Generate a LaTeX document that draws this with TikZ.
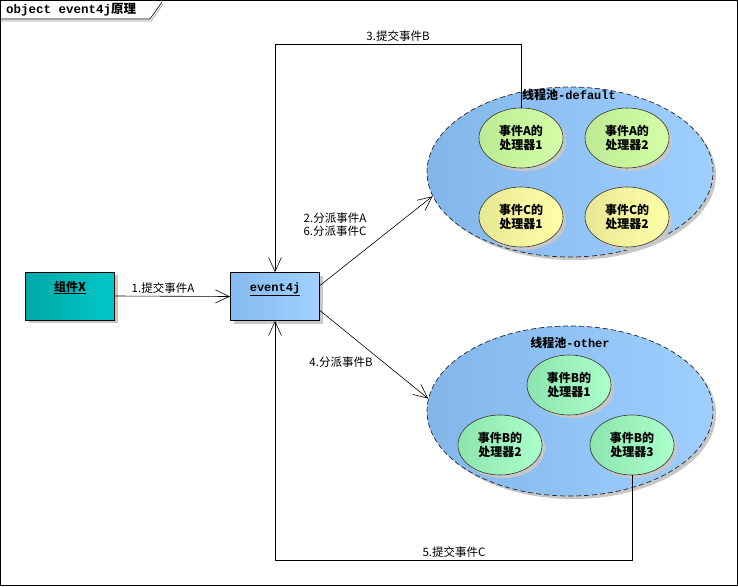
\documentclass[tikz,border=0pt]{standalone}
\usepackage{fontspec}
\setmainfont{Noto Sans CJK SC}
\setmonofont{Liberation Mono}
\usetikzlibrary{shapes.geometric,shadows,arrows.meta}
\definecolor{compL}{HTML}{00A8A8}
\definecolor{compR}{HTML}{00C8C8}
\definecolor{evtL}{HTML}{84BAEE}
\definecolor{evtR}{HTML}{A2D2FF}
\definecolor{poolL}{HTML}{82B6EA}
\definecolor{poolR}{HTML}{9FCFFF}
\definecolor{hAL}{HTML}{BEEA94}
\definecolor{hAR}{HTML}{D4FFA8}
\definecolor{hCL}{HTML}{E8E894}
\definecolor{hCR}{HTML}{FFFFA8}
\definecolor{hBL}{HTML}{8EE4AE}
\definecolor{hBR}{HTML}{AAFFCA}
\begin{document}
\begin{tikzpicture}[x=1pt,y=-1pt,
  every node/.style={inner sep=0pt},
  shad/.style={drop shadow={shadow xshift=3pt,shadow yshift=-3pt,fill=black!22,opacity=1}},
  lbl/.style={font=\fontsize{11.5}{13}\selectfont,align=center},
  objbox/.style={draw=black,line width=0.8pt,minimum width=89pt,minimum height=48pt,
    text height=8pt,text depth=18pt,font=\bfseries\fontsize{12}{13}\selectfont,shad},
  pool/.style={ellipse,draw=black!85,line width=0.7pt,dash pattern=on 5pt off 3pt,
    minimum width=286pt,minimum height=170pt,left color=poolL,right color=poolR,shad},
  handler/.style={ellipse,draw=black!80,line width=0.6pt,minimum width=84pt,minimum height=60pt,
    align=center,font=\bfseries\fontsize{12}{14}\selectfont,shad},
  arr/.style={-{Straight Barb[length=14pt,width=13pt]},line width=0.6pt}
]
\useasboundingbox (0,0) rectangle (738,586);
% frame and title tab
\draw [black,line width=0.6pt] (0.5,0.5) rectangle (737,585);
\draw [black,line width=0.6pt] (0.5,19) -- (150,19) -- (162,2);
\draw [black!40,line width=0.6pt] (0.5,21) -- (151,21) -- (163,4);
\node [anchor=west] (title) at (6,10) {\ttfamily\bfseries\fontsize{12.5}{14}\selectfont object event4j\rmfamily 原理};
% objects
\node [objbox,left color=compL,right color=compR] (compx) at (70,296) {\underline{组件X}};
\node [objbox,left color=evtL,right color=evtR] (evt) at (275,296.5) {\underline{\ttfamily event4j}};
% thread pools
\node [pool] (pooldef) at (570,172) {};
\node [pool] (pooloth) at (570,411) {};
\node [handler,left color=hAL,right color=hAR] (hA1) at (521,138) {事件A的\\处理器1};
\node [handler,left color=hAL,right color=hAR] (hA2) at (627,138) {事件A的\\处理器2};
\node [handler,left color=hCL,right color=hCR] (hC1) at (521,217) {事件C的\\处理器1};
\node [handler,left color=hCL,right color=hCR] (hC2) at (627,217) {事件C的\\处理器2};
\node [handler,left color=hBL,right color=hBR] (hB1) at (569,385) {事件B的\\处理器1};
\node [handler,left color=hBL,right color=hBR] (hB2) at (500,445) {事件B的\\处理器2};
\node [handler,left color=hBL,right color=hBR] (hB3) at (632,445) {事件B的\\处理器3};
% messages
\coordinate (c3) at (275,44);
\coordinate (c5) at (275,560);
\draw [arr] (compx.east) -- (evt.west);
\draw [arr] ([yshift=11pt]evt.east) -- (pooldef.190);
\draw [arr] ([yshift=-14pt]evt.east) -- (pooloth.175);
\draw [arr] (hA1.north) |- (c3) -- (evt.north);
\draw [arr] (hB3.south) |- (c5) -- (evt.south);
\node [font=\bfseries\fontsize{12}{13}\selectfont] (tdef) at (569,95) {线程池\ttfamily -default};
\node [font=\bfseries\fontsize{12}{13}\selectfont] (toth) at (570,343) {线程池\ttfamily -other};
\node [lbl] (m1) at (163,288) {1.提交事件A};
\node [lbl] (m2) at (335,225) {2.分派事件A\\6.分派事件C};
\node [lbl] (m3) at (398,36) {3.提交事件B};
\node [lbl] (m4) at (341,362) {4.分派事件B};
\node [lbl] (m5) at (454,552) {5.提交事件C};
\end{tikzpicture}
\end{document}
